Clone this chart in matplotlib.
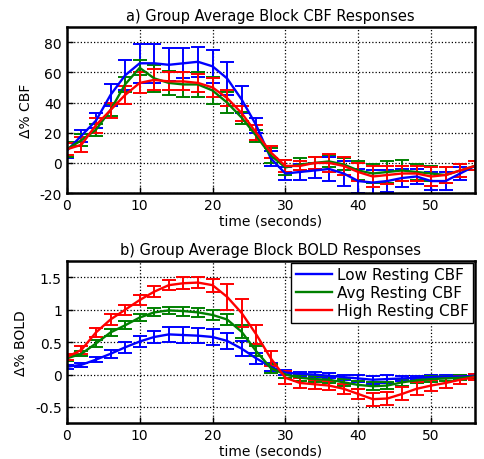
import numpy as np
import matplotlib
matplotlib.use('Agg')
from matplotlib import pyplot as plt

plt.rcParams['font.family'] = ['DejaVu Sans']
plt.rcParams['font.size'] = 10
plt.rcParams['axes.unicode_minus'] = False

# time points (seconds)
t = np.arange(0, 57, 2)

# a) CBF responses (% change)
cbf_low = [8, 18, 28, 45, 58, 66, 66, 65, 66, 67, 64, 56, 42, 25, 3, -7, -6, -5, -4, -7,
           -12, -13, -12, -10, -9, -12, -12, -7, -2]
cbf_low_err = [5, 4, 5, 7, 10, 13, 13, 11, 10, 10, 11, 11, 9, 5, 5, 4, 5, 5, 8, 8,
               8, 8, 7, 6, 5, 6, 6, 4, 3]
cbf_avg = [9, 15, 22, 35, 52, 63, 56, 53, 52, 52, 48, 40, 30, 18, 5, -3, -1, 0, 1, -1,
           -5, -7, -6, -5, -6, -7, -8, -5, -2]
cbf_avg_err = [5, 4, 4, 4, 5, 5, 9, 8, 8, 8, 9, 7, 4, 4, 5, 5, 4, 4, 4, 4,
               6, 6, 7, 7, 5, 5, 5, 4, 3]
cbf_high = [9, 12, 25, 35, 45, 53, 55, 54, 54, 53, 50, 43, 33, 20, 7, -2, -2, 0, 0, -2,
            -6, -9, -8, -7, -7, -9, -8, -5, -2]
cbf_high_err = [4, 5, 5, 5, 6, 7, 7, 6, 6, 6, 6, 5, 5, 5, 4, 4, 3, 4, 6, 6,
                6, 7, 6, 5, 5, 6, 5, 4, 3]

# b) BOLD responses (% change)
bold_low = [0.12, 0.15, 0.23, 0.32, 0.42, 0.51, 0.58, 0.62, 0.61, 0.60, 0.58, 0.52, 0.40, 0.25,
            0.12, 0.03, 0.01, 0.00, -0.02, -0.04, -0.06, -0.08, -0.07, -0.06, -0.05, -0.04,
            -0.03, -0.03, -0.02]
bold_low_err = [0.03, 0.03, 0.04, 0.06, 0.08, 0.09, 0.1, 0.12, 0.12, 0.12, 0.13, 0.12, 0.12, 0.08,
                0.06, 0.04, 0.03, 0.04, 0.04, 0.04, 0.05, 0.06, 0.06, 0.04, 0.03, 0.03,
                0.03, 0.03, 0.03]
bold_avg = [0.25, 0.32, 0.48, 0.65, 0.76, 0.88, 0.96, 0.99, 0.98, 0.96, 0.92, 0.85, 0.66, 0.36,
            0.1, 0.0, -0.05, -0.07, -0.08, -0.12, -0.16, -0.18, -0.17, -0.12, -0.09, -0.07,
            -0.06, -0.05, -0.03]
bold_avg_err = [0.04, 0.04, 0.05, 0.06, 0.06, 0.06, 0.06, 0.06, 0.07, 0.07, 0.08, 0.08, 0.1, 0.08,
                0.07, 0.06, 0.05, 0.05, 0.05, 0.05, 0.06, 0.06, 0.06, 0.05, 0.04, 0.04,
                0.04, 0.04, 0.03]
bold_high = [0.27, 0.38, 0.65, 0.85, 1.0, 1.15, 1.28, 1.38, 1.41, 1.42, 1.38, 1.2, 0.95, 0.62,
             0.25, -0.05, -0.13, -0.15, -0.17, -0.22, -0.3, -0.38, -0.37, -0.3, -0.22, -0.17,
             -0.13, -0.08, -0.04]
bold_high_err = [0.05, 0.06, 0.07, 0.08, 0.08, 0.08, 0.08, 0.08, 0.09, 0.09, 0.1, 0.2, 0.22, 0.15,
                 0.12, 0.1, 0.08, 0.07, 0.07, 0.08, 0.08, 0.1, 0.1, 0.1, 0.1, 0.09,
                 0.08, 0.06, 0.05]

labels = ['Low Resting CBF', 'Avg Resting CBF', 'High Resting CBF']
colors = ['#0000ff', '#008000', '#ff0000']


def style(ax):
    ax.set_xlim(0, 56)
    ax.set_xticks([0, 10, 20, 30, 40, 50])
    ax.grid(True, linestyle=':', color='black', linewidth=0.9)
    ax.tick_params(direction='in', length=4, width=1, labelsize=10)
    for s in ax.spines.values():
        s.set_linewidth(1.8)
    ax.set_xlabel('time (seconds)', labelpad=1)


fig = plt.figure(figsize=(4.84, 4.6), dpi=100)
ax1 = fig.add_axes([0.138, 0.578, 0.843, 0.361])
ax2 = fig.add_axes([0.138, 0.078, 0.843, 0.352])

for y, e, c, lab in zip([cbf_low, cbf_avg, cbf_high], [cbf_low_err, cbf_avg_err, cbf_high_err], colors, labels):
    ax1.errorbar(t, y, yerr=e, color=c, linewidth=1.7, elinewidth=1.4, capsize=5, capthick=1.4, label=lab)
ax1.set_ylim(-20, 90)
ax1.set_yticks([-20, 0, 20, 40, 60, 80])
ax1.set_ylabel('Δ% CBF', labelpad=5)
ax1.set_title('a) Group Average Block CBF Responses', fontsize=10.5, pad=5)
style(ax1)

lines = []
for y, e, c, lab in zip([bold_low, bold_avg, bold_high], [bold_low_err, bold_avg_err, bold_high_err], colors, labels):
    ax2.errorbar(t, y, yerr=e, color=c, linewidth=1.7, elinewidth=1.4, capsize=5, capthick=1.4)
    lines.append(plt.Line2D([], [], color=c, linewidth=1.7))
ax2.set_ylim(-0.75, 1.75)
ax2.set_yticks([-0.5, 0, 0.5, 1, 1.5])
ax2.set_yticklabels(['-0.5', '0', '0.5', '1', '1.5'])
ax2.set_ylabel('Δ% BOLD', labelpad=5)
ax2.set_title('b) Group Average Block BOLD Responses', fontsize=10.5, pad=5)
style(ax2)
leg = ax2.legend(lines, labels, loc='upper right', fontsize=11, handlelength=2.4,
                 handletextpad=0.3, borderaxespad=0.1, fancybox=False, framealpha=1,
                 labelspacing=0.2, borderpad=0.3)
leg.get_frame().set_edgecolor('black')
leg.get_frame().set_linewidth(1)

fig.savefig('out.png', dpi=100)
